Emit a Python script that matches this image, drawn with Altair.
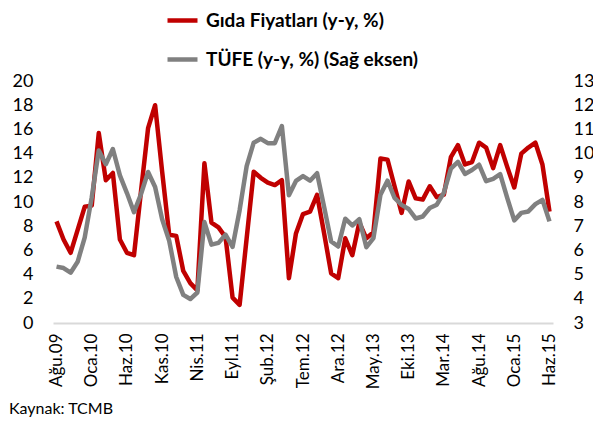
import altair as alt
import pandas as pd

# Turkish month abbreviations (category labels)
tr_months = ["Oca", "Şub", "Mar", "Nis", "May", "Haz", "Tem", "Ağu", "Eyl", "Eki", "Kas", "Ara"]
months = []
yy, mm = 9, 7
for _ in range(71):
    months.append(f"{tr_months[mm]}.{yy:02d}")
    mm += 1
    if mm == 12:
        mm = 0
        yy += 1

tick_labels = ["Ağu.09", "Oca.10", "Haz.10", "Kas.10", "Nis.11", "Eyl.11", "Şub.12", "Tem.12",
               "Ara.12", "May.13", "Eki.13", "Mar.14", "Ağu.14", "Oca.15", "Haz.15"]

# Gıda Fiyatları (y-y, %) - left axis
gida = [8.4, 6.9, 5.8, 7.7, 9.6,
        9.7, 15.7, 11.8, 12.4, 6.9, 5.8, 5.6, 10.9, 16.1, 18.0, 12.5, 7.3,
        7.2, 4.3, 3.3, 2.7, 13.2, 8.3, 7.9, 7.1, 2.1, 1.5, 7.0, 12.5,
        12.0, 11.6, 11.4, 11.8, 3.7, 7.4, 9.0, 9.2, 10.6, 7.4, 4.1, 3.7,
        7.0, 5.6, 8.3, 7.0, 7.5, 13.6, 13.5, 11.3, 9.1, 11.7, 10.3, 10.2,
        11.3, 10.4, 10.6, 13.7, 14.7, 13.1, 13.3, 14.9, 14.5, 12.8, 14.7, 12.9,
        11.2, 14.0, 14.5, 14.9, 13.1, 9.2]

# TÜFE (y-y, %) - right axis
tufe = [5.33, 5.27, 5.08, 5.53, 6.53,
        8.19, 10.13, 9.56, 10.19, 9.10, 8.37, 7.58, 8.33, 9.24, 8.62, 7.29, 6.40,
        4.90, 4.16, 3.99, 4.26, 7.17, 6.24, 6.31, 6.65, 6.15, 7.66, 9.48, 10.45,
        10.61, 10.43, 10.43, 11.14, 8.28, 8.87, 9.07, 8.88, 9.19, 7.80, 6.37, 6.16,
        7.31, 7.03, 7.29, 6.13, 6.51, 8.30, 8.88, 8.17, 7.88, 7.71, 7.32, 7.40,
        7.75, 7.89, 8.39, 9.38, 9.66, 9.16, 9.32, 9.54, 8.86, 8.96, 9.15, 8.17,
        7.24, 7.55, 7.61, 7.91, 8.09, 7.20]

series = ["Gıda Fiyatları (y-y, %)", "TÜFE (y-y, %) (Sağ eksen)"]
colors = ["#C00000", "#808080"]

df = pd.DataFrame({
    "Ay": months * 2,
    "Seri": [series[0]] * len(gida) + [series[1]] * len(tufe),
    "Değer": gida + tufe,
})

FONT = "Lato"

color = alt.Color(
    "Seri:N",
    scale=alt.Scale(domain=series, range=colors),
    legend=alt.Legend(
        title=None, orient="none", legendX=112, legendY=-78, direction="vertical",
        symbolType="stroke", symbolStrokeWidth=4.5, symbolSize=900,
        labelFont=FONT, labelFontSize=19, labelFontWeight="bold", labelColor="#000000",
        labelLimit=400, rowPadding=11, labelOffset=6,
    ),
)

xenc = alt.X(
    "Ay:O", sort=months, title=None,
    axis=alt.Axis(values=tick_labels, labelAngle=-90, labelFont=FONT, labelFontSize=17,
                  labelColor="#000000", ticks=False, domainColor="#D9D9D9", domainWidth=2,
                  labelPadding=10, grid=False),
)

base = alt.Chart(df).encode(x=xenc, color=color)

red = base.transform_filter(alt.datum.Seri == series[0]).mark_line(
    strokeWidth=4.5, strokeJoin="round").encode(
    y=alt.Y("Değer:Q", title=None,
            scale=alt.Scale(domain=[0, 20], nice=False, zero=False),
            axis=alt.Axis(orient="left", values=list(range(0, 21, 2)), grid=False, domain=False,
                          ticks=False, labelFont=FONT, labelFontSize=18, labelColor="#000000",
                          labelPadding=20)),
)

gray = base.transform_filter(alt.datum.Seri == series[1]).mark_line(
    strokeWidth=4.5, strokeJoin="round").encode(
    y=alt.Y("Değer:Q", title=None,
            scale=alt.Scale(domain=[3, 13], nice=False, zero=False),
            axis=alt.Axis(orient="right", values=list(range(3, 14)), grid=False, domain=False,
                          ticks=False, labelFont=FONT, labelFontSize=18, labelColor="#000000",
                          labelPadding=20)),
)

chart = alt.layer(red, gray).resolve_scale(y="independent").properties(
    width=500, height=242,
    autosize=alt.AutoSizeParams(type="none"),
    padding={"left": 45, "top": 73, "right": 40, "bottom": 94},
    title=alt.TitleParams("Kaynak: TCMB", orient="bottom", anchor="start", frame="group",
                          dx=-44, offset=12,
                          font=FONT, fontSize=16, fontWeight="normal", color="#000000"),
).configure_view(stroke=None)

chart.save("out.html", embed_options={"renderer": "svg", "actions": False})
